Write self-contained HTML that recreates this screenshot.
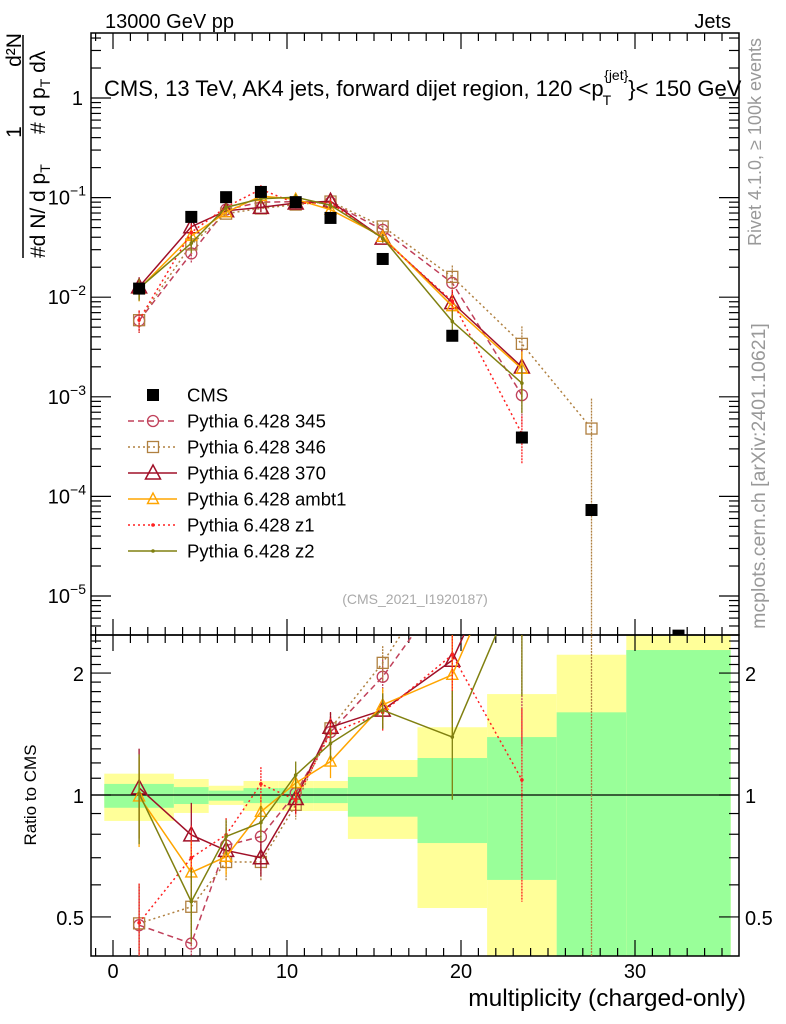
<!DOCTYPE html>
<html><head><meta charset="utf-8"><style>
html,body{margin:0;padding:0;background:#fff;width:786px;height:1024px;overflow:hidden;}
svg{display:block;font-family:"Liberation Sans",sans-serif;}
</style></head><body>
<svg id="chart" width="786" height="1024" viewBox="0 0 786 1024" xmlns="http://www.w3.org/2000/svg">
<defs>
<clipPath id="cm"><rect x="91" y="33" width="648" height="602"/></clipPath>
<clipPath id="cr"><rect x="91" y="635" width="648" height="321"/></clipPath>
</defs>
<text x="105" y="28" font-size="20">13000 GeV pp</text>
<text x="731" y="28" font-size="20" text-anchor="end">Jets</text>
<text x="104" y="96" font-size="22">CMS, 13 TeV, AK4 jets, forward dijet region, 120 &lt;p<tspan font-size="14" dy="9" dx="-1">T</tspan><tspan font-size="14" dy="-25" dx="-7">{jet}</tspan><tspan dy="16">}&lt; 150 GeV</tspan></text>
<g font-size="21">
  <line x1="23" y1="35" x2="23" y2="258" stroke="#000" stroke-width="1.5"/>
  <text transform="translate(21,50) rotate(-90)" text-anchor="middle">d²N</text>
  <text transform="translate(21,132) rotate(-90)" text-anchor="middle">1</text>
  <text transform="translate(45,258) rotate(-90)">#d N/ d p<tspan font-size="14" dy="5">T</tspan></text>
  <text transform="translate(45,134) rotate(-90)">#  d p<tspan font-size="14" dy="5">T</tspan><tspan dy="-5">  dλ</tspan></text>
</g>
<text transform="translate(36,795) rotate(-90)" font-size="17" text-anchor="middle">Ratio to CMS</text>
<text x="746" y="1006" font-size="24.5" text-anchor="end">multiplicity (charged-only)</text>
<text transform="translate(761,142) rotate(-90)" font-size="18" fill="#999" text-anchor="middle">Rivet 4.1.0, ≥ 100k events</text>
<text transform="translate(765,476) rotate(-90)" font-size="19.5" fill="#999" text-anchor="middle">mcplots.cern.ch [arXiv:2401.10621]</text>
<text x="415" y="604" font-size="14" fill="#aaa" text-anchor="middle">(CMS_2021_I1920187)</text>
<g id="g-bands" clip-path="url(#cr)"></g>
<g id="g-axes"></g>
<g id="g-main" clip-path="url(#cm)"></g>
<g id="g-ratio" clip-path="url(#cr)"></g>
<g id="g-legend"></g>
</svg>
<script>
const xCenters = [1.5,4.5,6.5,8.5,10.5,12.5,15.5,19.5,23.5,27.5,32.5];
const binEdges = [-0.5,3.5,5.5,7.5,9.5,11.5,13.5,17.5,21.5,25.5,29.5,35.5];
const cmsValues = [0.0122,0.064,0.101,0.114,0.09,0.0625,0.0242,0.0041,0.00039,0.000073,0.000004];
const bandYellowHi = [1.129,1.095,1.054,1.083,1.083,1.083,1.22,1.47,1.775,2.22,2.51];
const bandYellowLo = [0.863,0.903,0.945,0.913,0.913,0.913,0.779,0.526,0.40,0.40,0.40];
const bandGreenHi = [1.065,1.046,1.025,1.040,1.040,1.040,1.108,1.234,1.39,1.60,2.28];
const bandGreenLo = [0.930,0.950,0.968,0.955,0.955,0.955,0.884,0.761,0.617,0.40,0.40];
const mc345 = [0.00582,0.0275,0.0758,0.090,0.0909,0.0894,0.0474,0.0139,0.00104];
const mc346 = [0.00588,0.0339,0.069,0.0779,0.0851,0.0913,0.0513,0.016,0.0034,0.00048];
const mc370 = [0.0127,0.051,0.0737,0.0798,0.0882,0.0919,0.0392,0.00882,0.00199];
const mcAmbt1 = [0.0121,0.0412,0.0711,0.1036,0.0963,0.0756,0.0404,0.00812,0.00191];
const mcZ1 = [0.0059,0.0448,0.0805,0.1214,0.0875,0.0888,0.0387,0.0091,0.000425];
const mcZ2 = [0.0123,0.0349,0.0798,0.0974,0.1008,0.0838,0.0392,0.0057,0.00137];
const relErr = [0.25,0.2,0.1,0.1,0.08,0.09,0.1,0.3,0.5,1.0];
const ratioTicks = [0.5,1,2];
const xTicks = [0,10,20,30];

const NS="http://www.w3.org/2000/svg";
const L=91,R=739,MT=33,MB=635,RB=956;
function X(v){return 113+17.4*v;}
function YM(v){return 98-99.6*Math.log10(v);}
function YR(v){return 795-405*Math.log10(v);}
function mk(tag,attrs,parent){const e=document.createElementNS(NS,tag);for(const k in attrs)e.setAttribute(k,attrs[k]);parent.appendChild(e);return e;}
const gB=document.getElementById('g-bands'),gA=document.getElementById('g-axes'),gM=document.getElementById('g-main'),gR=document.getElementById('g-ratio'),gL=document.getElementById('g-legend');

for(let i=0;i<bandYellowHi.length;i++){
  const x1=X(binEdges[i]),x2=X(binEdges[i+1]);
  const y=mk('rect',{x:x1,y:YR(bandYellowHi[i]),width:x2-x1,height:YR(bandYellowLo[i])-YR(bandYellowHi[i]),fill:'#ffff99'},gB);
  
  
  const g=mk('rect',{x:x1,y:YR(bandGreenHi[i]),width:x2-x1,height:YR(bandGreenLo[i])-YR(bandGreenHi[i]),fill:'#99ff99'},gB);
  
  
}
const f1=mk('rect',{x:L,y:MT,width:R-L,height:MB-MT,fill:'none',stroke:'#000','stroke-width':1.5},gA);


const f2=mk('rect',{x:L,y:MB,width:R-L,height:RB-MB,fill:'none',stroke:'#000','stroke-width':1.5},gA);


const one=mk('line',{x1:L,x2:R,y1:YR(1),y2:YR(1),stroke:'#000','stroke-width':1.3},gA);


for(let v=-1;v<=35;v++){
  const x=X(v); const len=(v%10===0)?16:8;
  for(const [y0,d] of [[MT,1],[MB,-1],[MB,1],[RB,-1]]){
    mk('line',{x1:x,x2:x,y1:y0,y2:y0+d*len,stroke:'#000','stroke-width':1.2},gA);
  }
}
xTicks.forEach(v=>{const t=mk('text',{x:X(v),y:978,'font-size':20,'text-anchor':'middle'},gA);t.textContent=v;

});
for(let e=-6;e<=0;e++){
  for(let m=1;m<=9;m++){
    const v=m*Math.pow(10,e); const y=YM(v); if(y<MT||y>MB)continue;
    const len=m===1?20:10;
    mk('line',{x1:L,x2:L+len,y1:y,y2:y,stroke:'#000','stroke-width':1.2},gA);
    mk('line',{x1:R,x2:R-len,y1:y,y2:y,stroke:'#000','stroke-width':1.2},gA);
  }
  const y=YM(Math.pow(10,e)); if(y<MT||y>MB)continue;
  const t=mk('text',{x:e===0?83:84,y:y+7,'font-size':20,'text-anchor':'end'},gA);
  
  
  if(e===0){t.textContent='1';}else{t.textContent='10';const s=mk('tspan',{'font-size':14,dy:-9},t);s.textContent='−'+(-e);t.setAttribute('x',86);}
}
for(let v=0.4;v<=2.55;v+=0.1){
  const y=YR(v); if(y<MB||y>RB)continue;
  const major=[0.5,1,2].some(a=>Math.abs(a-v)<1e-6);
  const len=major?20:10;
  mk('line',{x1:L,x2:L+len,y1:y,y2:y,stroke:'#000','stroke-width':1.2},gA);
  mk('line',{x1:R,x2:R-len,y1:y,y2:y,stroke:'#000','stroke-width':1.2},gA);
}
ratioTicks.forEach(v=>{
  const a=mk('text',{x:84,y:YR(v)+8,'font-size':20,'text-anchor':'end'},gA);a.textContent=v;
  
  
  const b=mk('text',{x:745,y:YR(v)+8,'font-size':20},gA);b.textContent=v;
  
  
});

function marker(kind,x,y,color,parent){
  if(kind==='circle')return mk('circle',{cx:x,cy:y,r:5.5,fill:'none',stroke:color,'stroke-width':1.3},parent);
  if(kind==='square')return mk('rect',{x:x-5.5,y:y-5.5,width:11,height:11,fill:'none',stroke:color,'stroke-width':1.3},parent);
  if(kind==='tri')return mk('polygon',{points:`${x},${y-8} ${x-7.5},${y+6} ${x+7.5},${y+6}`,fill:'none',stroke:color,'stroke-width':1.5},parent);
  if(kind==='tris')return mk('polygon',{points:`${x},${y-6} ${x-5.5},${y+4.5} ${x+5.5},${y+4.5}`,fill:'none',stroke:color,'stroke-width':1.4},parent);
  return mk('circle',{cx:x,cy:y,r:1.8,fill:color},parent);
}
const series=[
 {name:'Pythia 6.428 345',vals:mc345,color:'#c0405a',dash:'6,4',mk:'circle',id:'345'},
 {name:'Pythia 6.428 346',vals:mc346,color:'#b08040',dash:'2,3',mk:'square',id:'346'},
 {name:'Pythia 6.428 370',vals:mc370,color:'#a01028',dash:'',mk:'tri',id:'370'},
 {name:'Pythia 6.428 ambt1',vals:mcAmbt1,color:'#ffa500',dash:'',mk:'tris',id:'ambt1'},
 {name:'Pythia 6.428 z1',vals:mcZ1,color:'#ff2020',dash:'2,3',mk:'dot',id:'z1'},
 {name:'Pythia 6.428 z2',vals:mcZ2,color:'#808010',dash:'',mk:'dot',id:'z2'}
];
series.forEach(s=>{
  const gm=mk('g',{},gM), gr=mk('g',{},gR);
  
  
  
  
  const pm=[],pr=[];
  s.vals.forEach((v,i)=>{pm.push(X(xCenters[i])+','+YM(v));pr.push(X(xCenters[i])+','+YR(v/cmsValues[i]));});
  const a={fill:'none',stroke:s.color,'stroke-width':1.5};if(s.dash)a['stroke-dasharray']=s.dash;
  const lm=mk('polyline',Object.assign({points:pm.join(' ')},a),gm);
  
  
  const lr=mk('polyline',Object.assign({points:pr.join(' ')},a),gr);
  
  
  s.vals.forEach((v,i)=>{
    const x=X(xCenters[i]); const e=relErr[i];
    const r=v/cmsValues[i];
    const ea={stroke:s.color,'stroke-width':1.3};if(s.dash)ea['stroke-dasharray']='2,1';
    mk('line',Object.assign({x1:x,x2:x,y1:YM(v*(1+e)),y2:YM(Math.max(v*(1-e),1e-9))},ea),gm);
    mk('line',Object.assign({x1:x,x2:x,y1:YR(r*(1+e)),y2:YR(Math.max(r*(1-e),0.01))},ea),gr);
    const p=marker(s.mk,x,YM(v),s.color,gm);
    
    
    const q=marker(s.mk,x,YR(r),s.color,gr);
    
    
  });
});
cmsValues.forEach((v,i)=>{
  const x=X(xCenters[i]),y=YM(v);
  const p=mk('rect',{x:x-6,y:y-6,width:12,height:12,fill:'#000'},gM);
  
  
});
const rows=[{name:'CMS',cms:true}].concat(series);
rows.forEach((s,i)=>{
  const y=395+26*i;
  const g=mk('g',{},gL);
  
  
  if(s.cms){mk('rect',{x:147,y:y-6,width:12,height:12,fill:'#000'},g);}
  else{
    const a={x1:128,x2:177,y1:y,y2:y,stroke:s.color,'stroke-width':1.5};if(s.dash)a['stroke-dasharray']=s.dash;
    mk('line',a,g); marker(s.mk,153,y,s.color,g);
  }
  const t=mk('text',{x:187,y:y+6.5,'font-size':18.5},g);t.textContent=s.name;
});
</script>
</body></html>
